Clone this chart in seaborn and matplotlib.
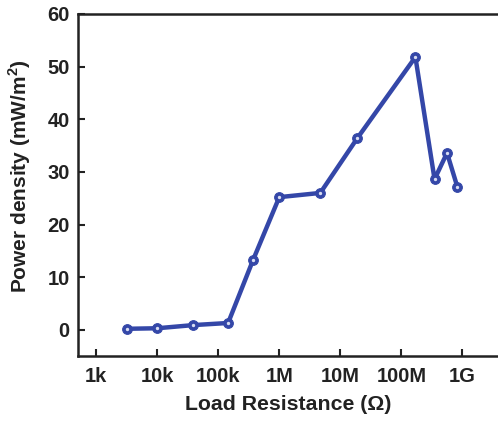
import numpy as np
import pandas as pd
import matplotlib
matplotlib.use("Agg")
import matplotlib.pyplot as plt
import seaborn as sns

# Load resistance (ohm) and measured power density (mW/m^2)
resistance = [3.2e3, 1.0e4, 3.9e4, 1.45e5, 3.7e5, 1.0e6, 4.7e6, 1.9e7, 1.7e8, 3.5e8, 5.6e8, 8.3e8]
power_density = [0.2, 0.3, 0.9, 1.3, 13.2, 25.2, 26.0, 36.4, 51.8, 28.6, 33.6, 27.1]

tick_values = [1e3, 1e4, 1e5, 1e6, 1e7, 1e8, 1e9]
tick_labels = ["1k", "10k", "100k", "1M", "10M", "100M", "1G"]

df = pd.DataFrame({"R": resistance, "P": power_density})

sns.set_style("ticks")
plt.rcParams["font.family"] = ["Liberation Sans", "DejaVu Sans"]
plt.rcParams["font.weight"] = "bold"
plt.rcParams["mathtext.fontset"] = "custom"
plt.rcParams["mathtext.bf"] = "Liberation Sans:bold"

line_color = "#3447a8"
ink = "#222222"

fig = plt.figure(figsize=(4.98, 4.21), dpi=100)
ax = fig.add_axes([0.157, 0.154, 0.845, 0.813])

sns.lineplot(data=df, x="R", y="P", ax=ax, color=line_color, linewidth=3.2,
             marker="o", markersize=7, markerfacecolor=line_color,
             markeredgecolor=line_color, sort=False)
# light centres of the markers
ax.plot(resistance, power_density, linestyle="none", marker="o", markersize=1.4,
        color="#d8ddf2", zorder=5)

ax.set_xscale("log")
ax.set_xlim(10**2.705, 10**9.6)
ax.set_ylim(-5, 60)
ax.set_xticks(tick_values)
ax.set_xticklabels(tick_labels)
ax.set_yticks([0, 10, 20, 30, 40, 50, 60])
ax.minorticks_off()

ax.tick_params(direction="in", length=5, width=1.5, labelsize=14.5, colors=ink)
ax.tick_params(axis="x", pad=8)
ax.tick_params(axis="y", pad=6)
for lbl in ax.get_xticklabels() + ax.get_yticklabels():
    lbl.set_fontweight("bold")

for side in ["left", "bottom", "top", "right"]:
    ax.spines[side].set_visible(True)
    ax.spines[side].set_linewidth(1.8)
    ax.spines[side].set_color(ink)

ax.set_xlabel("Load Resistance (\u03a9)", fontsize=15.3, fontweight="bold", color=ink, labelpad=6)
ax.set_ylabel("Power density (mW/m$^\\mathbf{2}$)", fontsize=15, fontweight="bold", color=ink)
ax.yaxis.set_label_coords(-0.107, 0.525)

fig.savefig("out.png", dpi=100)
